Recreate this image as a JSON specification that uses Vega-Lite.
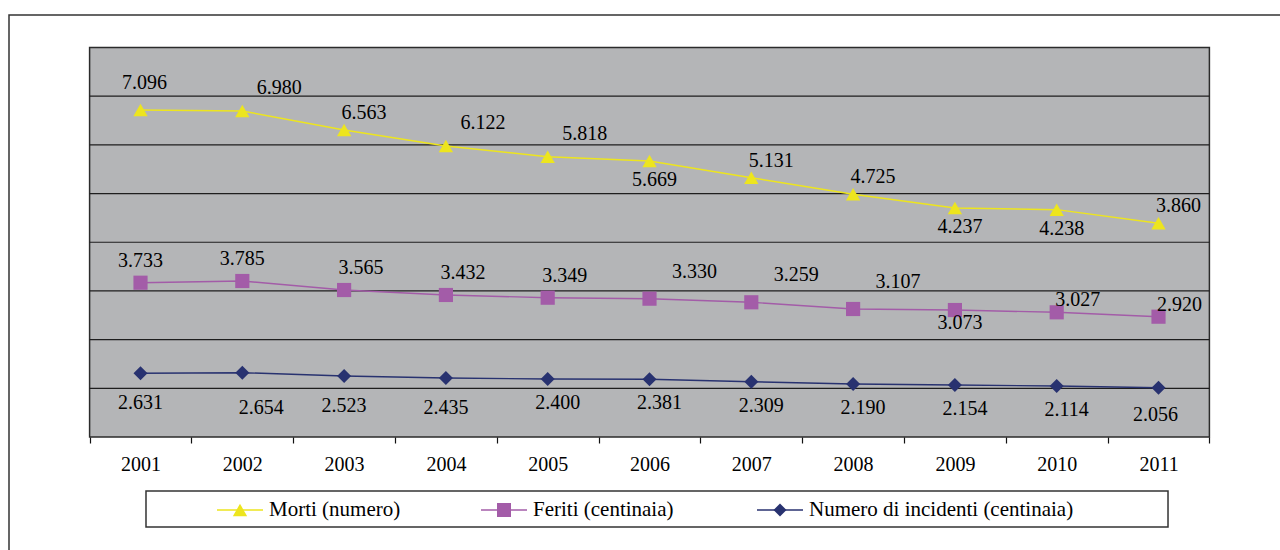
{
  "$schema": "https://vega.github.io/schema/vega-lite/v6.json",
  "width": 1280,
  "height": 545,
  "autosize": {"type": "none"},
  "padding": {"left": 9, "top": 15, "right": 0, "bottom": 0},
  "background": "white",
  "config": {
    "view": {"stroke": "#333333", "strokeWidth": 1.5, "fill": "white"},
    "font": "Liberation Serif, Times New Roman, DejaVu Serif, serif",
    "text": {"font": "Liberation Serif, Times New Roman, DejaVu Serif, serif"},
    "locale": {"number": {"decimal": ",", "thousands": ".", "grouping": [3], "currency": ["€", ""]}}
  },
  "title": {"text": "Valori assoluti:", "anchor": "start", "frame": "group", "orient": "top", "offset": 11, "font": "Liberation Serif, Times New Roman, serif", "fontStyle": "italic", "fontWeight": "bold", "fontSize": 22, "color": "black", "baseline": "alphabetic", "dx": 4},
  "datasets": {
    "main": [
      {"year": 2001, "series": "Morti (numero)", "value": 6.716, "n": 7096},
      {"year": 2002, "series": "Morti (numero)", "value": 6.696, "n": 6980},
      {"year": 2003, "series": "Morti (numero)", "value": 6.305, "n": 6563},
      {"year": 2004, "series": "Morti (numero)", "value": 5.977, "n": 6122},
      {"year": 2005, "series": "Morti (numero)", "value": 5.757, "n": 5818},
      {"year": 2006, "series": "Morti (numero)", "value": 5.669, "n": 5669},
      {"year": 2007, "series": "Morti (numero)", "value": 5.326, "n": 5131},
      {"year": 2008, "series": "Morti (numero)", "value": 4.985, "n": 4725},
      {"year": 2009, "series": "Morti (numero)", "value": 4.703, "n": 4237},
      {"year": 2010, "series": "Morti (numero)", "value": 4.669, "n": 4238},
      {"year": 2011, "series": "Morti (numero)", "value": 4.389, "n": 3860},
      {"year": 2001, "series": "Feriti (centinaia)", "value": 3.169, "n": 3733},
      {"year": 2002, "series": "Feriti (centinaia)", "value": 3.204, "n": 3785},
      {"year": 2003, "series": "Feriti (centinaia)", "value": 3.019, "n": 3565},
      {"year": 2004, "series": "Feriti (centinaia)", "value": 2.917, "n": 3432},
      {"year": 2005, "series": "Feriti (centinaia)", "value": 2.861, "n": 3349},
      {"year": 2006, "series": "Feriti (centinaia)", "value": 2.841, "n": 3330},
      {"year": 2007, "series": "Feriti (centinaia)", "value": 2.767, "n": 3259},
      {"year": 2008, "series": "Feriti (centinaia)", "value": 2.629, "n": 3107},
      {"year": 2009, "series": "Feriti (centinaia)", "value": 2.608, "n": 3073},
      {"year": 2010, "series": "Feriti (centinaia)", "value": 2.561, "n": 3027},
      {"year": 2011, "series": "Feriti (centinaia)", "value": 2.471, "n": 2920},
      {"year": 2001, "series": "Numero di incidenti (centinaia)", "value": 1.308, "n": 2631},
      {"year": 2002, "series": "Numero di incidenti (centinaia)", "value": 1.321, "n": 2654},
      {"year": 2003, "series": "Numero di incidenti (centinaia)", "value": 1.253, "n": 2523},
      {"year": 2004, "series": "Numero di incidenti (centinaia)", "value": 1.212, "n": 2435},
      {"year": 2005, "series": "Numero di incidenti (centinaia)", "value": 1.191, "n": 2400},
      {"year": 2006, "series": "Numero di incidenti (centinaia)", "value": 1.185, "n": 2381},
      {"year": 2007, "series": "Numero di incidenti (centinaia)", "value": 1.136, "n": 2309},
      {"year": 2008, "series": "Numero di incidenti (centinaia)", "value": 1.089, "n": 2190},
      {"year": 2009, "series": "Numero di incidenti (centinaia)", "value": 1.068, "n": 2154},
      {"year": 2010, "series": "Numero di incidenti (centinaia)", "value": 1.047, "n": 2114},
      {"year": 2011, "series": "Numero di incidenti (centinaia)", "value": 1.013, "n": 2056}
    ],
    "grid": [{"g": 1}, {"g": 2}, {"g": 3}, {"g": 4}, {"g": 5}, {"g": 6}, {"g": 7}]
  },
  "layer": [
    {
      "data": {"values": [{}]},
      "mark": {"type": "rect", "fill": "#B4B5B7", "stroke": "#2b2b2b", "strokeWidth": 1.5},
      "encoding": {
        "x": {"datum": 2000.5, "type": "quantitative",
              "scale": {"type": "linear", "domain": [1999.70825, 2012.2819], "nice": false, "zero": false},
              "axis": {"orient": "bottom", "offset": -123, "values": [2000.5, 2001.5, 2002.5, 2003.5, 2004.5, 2005.5, 2006.5, 2007.5, 2008.5, 2009.5, 2010.5, 2011.5],
                       "domain": false, "grid": false, "ticks": true, "tickSize": 6, "tickColor": "#111111", "tickWidth": 1.2,
                       "labelExpr": "datum.value > 2011 ? '' : format(datum.value + 0.5, 'd')",
                       "labelOffset": 50.9, "labelFont": "Liberation Serif, Times New Roman, DejaVu Serif, serif", "labelFontSize": 20, "labelColor": "black",
                       "labelPadding": 11, "labelFlush": false, "labelOverlap": false, "labelBound": false, "title": null, "zindex": 1}},
        "x2": {"datum": 2011.5},
        "y": {"datum": 0, "type": "quantitative",
              "scale": {"type": "linear", "domain": [-2.5263, 8.6675], "nice": false, "zero": false}, "axis": null},
        "y2": {"datum": 8}
      }
    },
    {
      "data": {"name": "grid"},
      "mark": {"type": "rule", "stroke": "#1e1e1e", "strokeWidth": 1.2},
      "encoding": {
        "x": {"datum": 2000.5, "type": "quantitative", "title": null},
        "x2": {"datum": 2011.5},
        "y": {"field": "g", "type": "quantitative", "axis": null}
      }
    },
    {
      "data": {"values": [{}]},
      "mark": {"type": "rect", "fill": "white", "stroke": "#333333", "strokeWidth": 1.5},
      "encoding": {
        "x": {"datum": 2001.054, "type": "quantitative", "title": null},
        "x2": {"datum": 2011.0934},
        "y": {"datum": -1.1091, "type": "quantitative", "axis": null},
        "y2": {"datum": -1.8485}
      }
    },
    {
      "data": {"name": "main"},
      "mark": {"type": "line", "strokeWidth": 1.4},
      "encoding": {
        "x": {"field": "year", "type": "quantitative", "title": null},
        "y": {"field": "value", "type": "quantitative", "axis": null},
        "color": {"field": "series", "type": "nominal", "legend": null,
                  "scale": {"domain": ["Morti (numero)", "Feriti (centinaia)", "Numero di incidenti (centinaia)"], "range": ["#EDE51E", "#A35CA8", "#283270"]}}
      }
    },
    {
      "data": {"name": "main"},
      "mark": {"type": "point", "filled": true, "opacity": 1},
      "encoding": {
        "x": {"field": "year", "type": "quantitative", "title": null},
        "y": {"field": "value", "type": "quantitative", "axis": null},
        "color": {"field": "series", "type": "nominal", "legend": null},
        "shape": {"field": "series", "type": "nominal", "legend": null,
                  "scale": {"domain": ["Morti (numero)", "Feriti (centinaia)", "Numero di incidenti (centinaia)"], "range": ["triangle-up", "square", "diamond"]}},
        "size": {"field": "series", "type": "nominal", "legend": null,
                 "scale": {"domain": ["Morti (numero)", "Feriti (centinaia)", "Numero di incidenti (centinaia)"], "range": [205, 196, 170]}}
      }
    },
    {
      "data": {"name": "main"},
      "transform": [{"filter": {"and": [{"field": "series", "equal": "Morti (numero)"}, {"field": "year", "equal": 2001}]}}],
      "layer": [
        {"mark": {"type": "rule", "strokeWidth": 1.4},
         "encoding": {"x": {"datum": 2001.7515, "type": "quantitative", "title": null}, "x2": {"datum": 2002.2033}, "y": {"datum": -1.4994, "type": "quantitative", "axis": null}, "color": {"field": "series", "type": "nominal", "legend": null}}},
        {"mark": {"type": "point", "filled": true, "opacity": 1, "shape": "triangle-up", "size": 205},
         "encoding": {"x": {"datum": 2001.9774, "type": "quantitative", "title": null}, "y": {"datum": -1.4994, "type": "quantitative", "axis": null}, "color": {"field": "series", "type": "nominal", "legend": null}}},
        {"mark": {"type": "text", "fontSize": 21, "color": "black", "align": "left", "baseline": "middle"},
         "encoding": {"x": {"datum": 2002.2623, "type": "quantitative", "title": null}, "y": {"datum": -1.4994, "type": "quantitative", "axis": null}, "text": {"field": "series", "type": "nominal"}}}
      ]
    },
    {
      "data": {"name": "main"},
      "transform": [{"filter": {"and": [{"field": "series", "equal": "Feriti (centinaia)"}, {"field": "year", "equal": 2001}]}}],
      "layer": [
        {"mark": {"type": "rule", "strokeWidth": 1.4},
         "encoding": {"x": {"datum": 2004.3448, "type": "quantitative", "title": null}, "x2": {"datum": 2004.7967}, "y": {"datum": -1.4994, "type": "quantitative", "axis": null}, "color": {"field": "series", "type": "nominal", "legend": null}}},
        {"mark": {"type": "point", "filled": true, "opacity": 1, "shape": "square", "size": 196},
         "encoding": {"x": {"datum": 2004.5707, "type": "quantitative", "title": null}, "y": {"datum": -1.4994, "type": "quantitative", "axis": null}, "color": {"field": "series", "type": "nominal", "legend": null}}},
        {"mark": {"type": "text", "fontSize": 21, "color": "black", "align": "left", "baseline": "middle"},
         "encoding": {"x": {"datum": 2004.8556, "type": "quantitative", "title": null}, "y": {"datum": -1.4994, "type": "quantitative", "axis": null}, "text": {"field": "series", "type": "nominal"}}}
      ]
    },
    {
      "data": {"name": "main"},
      "transform": [{"filter": {"and": [{"field": "series", "equal": "Numero di incidenti (centinaia)"}, {"field": "year", "equal": 2001}]}}],
      "layer": [
        {"mark": {"type": "rule", "strokeWidth": 1.4},
         "encoding": {"x": {"datum": 2007.056, "type": "quantitative", "title": null}, "x2": {"datum": 2007.5079}, "y": {"datum": -1.4994, "type": "quantitative", "axis": null}, "color": {"field": "series", "type": "nominal", "legend": null}}},
        {"mark": {"type": "point", "filled": true, "opacity": 1, "shape": "diamond", "size": 170},
         "encoding": {"x": {"datum": 2007.2819, "type": "quantitative", "title": null}, "y": {"datum": -1.4994, "type": "quantitative", "axis": null}, "color": {"field": "series", "type": "nominal", "legend": null}}},
        {"mark": {"type": "text", "fontSize": 21, "color": "black", "align": "left", "baseline": "middle"},
         "encoding": {"x": {"datum": 2007.5668, "type": "quantitative", "title": null}, "y": {"datum": -1.4994, "type": "quantitative", "axis": null}, "text": {"field": "series", "type": "nominal"}}}
      ]
    },
    {
      "data": {"name": "main"},
      "transform": [{"filter": {"and": [{"field": "series", "equal": "Morti (numero)"}, {"field": "year", "oneOf": [2001]}]}}],
      "mark": {"type": "text", "fontSize": 20, "color": "black", "align": "center", "baseline": "middle", "dx": 4, "dy": -27},
      "encoding": {"x": {"field": "year", "type": "quantitative", "title": null}, "y": {"field": "value", "type": "quantitative", "axis": null}, "text": {"field": "n", "type": "quantitative", "format": ",d"}}
    },
    {
      "data": {"name": "main"},
      "transform": [{"filter": {"and": [{"field": "series", "equal": "Morti (numero)"}, {"field": "year", "oneOf": [2002, 2004, 2005]}]}}],
      "mark": {"type": "text", "fontSize": 20, "color": "black", "align": "center", "baseline": "middle", "dx": 37, "dy": -23},
      "encoding": {"x": {"field": "year", "type": "quantitative", "title": null}, "y": {"field": "value", "type": "quantitative", "axis": null}, "text": {"field": "n", "type": "quantitative", "format": ",d"}}
    },
    {
      "data": {"name": "main"},
      "transform": [{"filter": {"and": [{"field": "series", "equal": "Morti (numero)"}, {"field": "year", "oneOf": [2003, 2007, 2008, 2011]}]}}],
      "mark": {"type": "text", "fontSize": 20, "color": "black", "align": "center", "baseline": "middle", "dx": 20, "dy": -17},
      "encoding": {"x": {"field": "year", "type": "quantitative", "title": null}, "y": {"field": "value", "type": "quantitative", "axis": null}, "text": {"field": "n", "type": "quantitative", "format": ",d"}}
    },
    {
      "data": {"name": "main"},
      "transform": [{"filter": {"and": [{"field": "series", "equal": "Morti (numero)"}, {"field": "year", "oneOf": [2006, 2009, 2010]}]}}],
      "mark": {"type": "text", "fontSize": 20, "color": "black", "align": "center", "baseline": "middle", "dx": 5, "dy": 19},
      "encoding": {"x": {"field": "year", "type": "quantitative", "title": null}, "y": {"field": "value", "type": "quantitative", "axis": null}, "text": {"field": "n", "type": "quantitative", "format": ",d"}}
    },
    {
      "data": {"name": "main"},
      "transform": [{"filter": {"and": [{"field": "series", "equal": "Feriti (centinaia)"}, {"field": "year", "oneOf": [2001, 2002]}]}}],
      "mark": {"type": "text", "fontSize": 20, "color": "black", "align": "center", "baseline": "middle", "dx": 0, "dy": -22},
      "encoding": {"x": {"field": "year", "type": "quantitative", "title": null}, "y": {"field": "value", "type": "quantitative", "axis": null}, "text": {"field": "n", "type": "quantitative", "format": ",d"}}
    },
    {
      "data": {"name": "main"},
      "transform": [{"filter": {"and": [{"field": "series", "equal": "Feriti (centinaia)"}, {"field": "year", "oneOf": [2003, 2004, 2005]}]}}],
      "mark": {"type": "text", "fontSize": 20, "color": "black", "align": "center", "baseline": "middle", "dx": 17, "dy": -22},
      "encoding": {"x": {"field": "year", "type": "quantitative", "title": null}, "y": {"field": "value", "type": "quantitative", "axis": null}, "text": {"field": "n", "type": "quantitative", "format": ",d"}}
    },
    {
      "data": {"name": "main"},
      "transform": [{"filter": {"and": [{"field": "series", "equal": "Feriti (centinaia)"}, {"field": "year", "oneOf": [2006, 2007, 2008]}]}}],
      "mark": {"type": "text", "fontSize": 20, "color": "black", "align": "center", "baseline": "middle", "dx": 45, "dy": -27},
      "encoding": {"x": {"field": "year", "type": "quantitative", "title": null}, "y": {"field": "value", "type": "quantitative", "axis": null}, "text": {"field": "n", "type": "quantitative", "format": ",d"}}
    },
    {
      "data": {"name": "main"},
      "transform": [{"filter": {"and": [{"field": "series", "equal": "Feriti (centinaia)"}, {"field": "year", "oneOf": [2009]}]}}],
      "mark": {"type": "text", "fontSize": 20, "color": "black", "align": "center", "baseline": "middle", "dx": 5, "dy": 13},
      "encoding": {"x": {"field": "year", "type": "quantitative", "title": null}, "y": {"field": "value", "type": "quantitative", "axis": null}, "text": {"field": "n", "type": "quantitative", "format": ",d"}}
    },
    {
      "data": {"name": "main"},
      "transform": [{"filter": {"and": [{"field": "series", "equal": "Feriti (centinaia)"}, {"field": "year", "oneOf": [2010, 2011]}]}}],
      "mark": {"type": "text", "fontSize": 20, "color": "black", "align": "center", "baseline": "middle", "dx": 21, "dy": -12},
      "encoding": {"x": {"field": "year", "type": "quantitative", "title": null}, "y": {"field": "value", "type": "quantitative", "axis": null}, "text": {"field": "n", "type": "quantitative", "format": ",d"}}
    },
    {
      "data": {"name": "main"},
      "transform": [{"filter": {"and": [{"field": "series", "equal": "Numero di incidenti (centinaia)"}, {"field": "year", "oneOf": [2001, 2003, 2004]}]}}],
      "mark": {"type": "text", "fontSize": 20, "color": "black", "align": "center", "baseline": "middle", "dx": 0, "dy": 30},
      "encoding": {"x": {"field": "year", "type": "quantitative", "title": null}, "y": {"field": "value", "type": "quantitative", "axis": null}, "text": {"field": "n", "type": "quantitative", "format": ",d"}}
    },
    {
      "data": {"name": "main"},
      "transform": [{"filter": {"and": [{"field": "series", "equal": "Numero di incidenti (centinaia)"}, {"field": "year", "oneOf": [2002]}]}}],
      "mark": {"type": "text", "fontSize": 20, "color": "black", "align": "center", "baseline": "middle", "dx": 19, "dy": 35},
      "encoding": {"x": {"field": "year", "type": "quantitative", "title": null}, "y": {"field": "value", "type": "quantitative", "axis": null}, "text": {"field": "n", "type": "quantitative", "format": ",d"}}
    },
    {
      "data": {"name": "main"},
      "transform": [{"filter": {"and": [{"field": "series", "equal": "Numero di incidenti (centinaia)"}, {"field": "year", "oneOf": [2005, 2006, 2007, 2008, 2009, 2010]}]}}],
      "mark": {"type": "text", "fontSize": 20, "color": "black", "align": "center", "baseline": "middle", "dx": 10, "dy": 24},
      "encoding": {"x": {"field": "year", "type": "quantitative", "title": null}, "y": {"field": "value", "type": "quantitative", "axis": null}, "text": {"field": "n", "type": "quantitative", "format": ",d"}}
    },
    {
      "data": {"name": "main"},
      "transform": [{"filter": {"and": [{"field": "series", "equal": "Numero di incidenti (centinaia)"}, {"field": "year", "oneOf": [2011]}]}}],
      "mark": {"type": "text", "fontSize": 20, "color": "black", "align": "center", "baseline": "middle", "dx": -3, "dy": 27},
      "encoding": {"x": {"field": "year", "type": "quantitative", "title": null}, "y": {"field": "value", "type": "quantitative", "axis": null}, "text": {"field": "n", "type": "quantitative", "format": ",d"}}
    }
  ]
}
